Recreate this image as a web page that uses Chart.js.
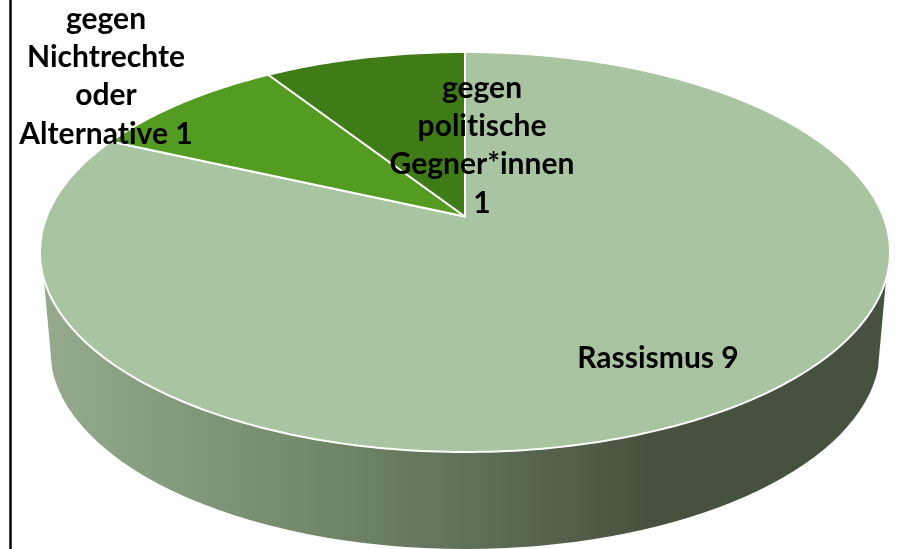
<!DOCTYPE html>
<html lang="de">
<head>
<meta charset="utf-8">
<title>Kreisdiagramm</title>
<script src="https://cdn.jsdelivr.net/npm/chart.js@4"></script>
<style>
    html, body { margin: 0; padding: 0; background: #fff; overflow: hidden; }
    #wrap { position: relative; width: 899px; height: 549px; }
    #frame { position: absolute; left: 9px; top: 0; width: 3px; height: 549px; background: linear-gradient(90deg, #666, #000, #666); }
    canvas { position: absolute; left: 0; top: 0; }
</style>
</head>
<body>
<div id="wrap">
    <canvas id="pieChart" width="899" height="549"></canvas>
    <div id="frame"></div>
</div>
<script>
// Daten
const categories = ['Rassismus', 'gegen Nichtrechte oder Alternative', 'gegen politische Gegner*innen'];
const values = [9, 1, 1];
const sliceColors = ['#a9c4a0', '#549b22', '#3f7b16'];
const labelLines = [
    ['Rassismus 9'],
    ['gegen', 'Nichtrechte', 'oder', 'Alternative 1'],
    ['gegen', 'politische', 'Gegner*innen', '1']
];
const labelCenters = [[658, 358], [106, 19], [482, 88]];

// Geometrie der geneigten Scheibe
const top3d = { cx: 465, cy: 252, rx: 425, ry: 200, apexY: 216.5 };
const bottom3d = { cx: 465, cy: 349, rx: 415, ry: 200 };

// Punkt auf dem Einheitskreis perspektivisch auf die Ellipse abbilden
function project(theta) {
    const a = (top3d.apexY - top3d.cy) / top3d.ry;
    const u = Math.sin(theta);
    const v = -Math.cos(theta);
    const w = 1 + a * v;
    return {
        x: top3d.cx + top3d.rx * u * Math.sqrt(1 - a * a) / w,
        y: top3d.cy + top3d.ry * (v + a) / w
    };
}

function drawWall(ctx) {
    const grad = ctx.createLinearGradient(50, 0, 650, 0);
    grad.addColorStop(0, '#95aa8c');
    grad.addColorStop(0.42, '#748a6c');
    grad.addColorStop(0.7, '#5f7059');
    grad.addColorStop(1, '#47513f');
    ctx.beginPath();
    ctx.moveTo(44, 280);
    ctx.ellipse(bottom3d.cx, bottom3d.cy, bottom3d.rx, bottom3d.ry, 0, Math.PI - 0.1, 0.1, true);
    ctx.lineTo(886, 280);
    ctx.lineTo(886, 250);
    ctx.lineTo(44, 250);
    ctx.closePath();
    ctx.fillStyle = grad;
    ctx.fill();
}

const disc3d = {
    id: 'disc3d',
    beforeDatasetDraw(chart, args) {
        const ctx = chart.ctx;
        ctx.save();
        drawWall(ctx);
        args.meta.data.forEach(function(arc, i) {
            const start = arc.startAngle + Math.PI / 2;
            const end = arc.endAngle + Math.PI / 2;
            ctx.beginPath();
            ctx.moveTo(top3d.cx, top3d.apexY);
            const steps = Math.ceil((end - start) * 60);
            for (let s = 0; s <= steps; s++) {
                const p = project(start + (end - start) * s / steps);
                ctx.lineTo(p.x, p.y);
            }
            ctx.closePath();
            ctx.fillStyle = sliceColors[i];
            ctx.fill();
            ctx.strokeStyle = '#ffffff';
            ctx.lineWidth = 2;
            ctx.lineJoin = 'round';
            ctx.stroke();
        });
        ctx.restore();
        return false;
    },
    afterDatasetsDraw(chart) {
        const ctx = chart.ctx;
        ctx.save();
        ctx.fillStyle = '#000000';
        ctx.font = 'bold 30px Lato';
        ctx.letterSpacing = '0.01px';
        ctx.textAlign = 'center';
        ctx.textBaseline = 'middle';
        labelLines.forEach(function(lines, i) {
            lines.forEach(function(line, j) {
                ctx.fillText(line, labelCenters[i][0], labelCenters[i][1] + j * 38.3);
            });
        });
        ctx.restore();
    }
};

new Chart(document.getElementById('pieChart').getContext('2d'), {
    type: 'pie',
    data: {
        labels: categories,
        datasets: [{ data: values, backgroundColor: sliceColors, borderColor: '#ffffff', borderWidth: 2 }]
    },
    options: {
        responsive: false,
        animation: false,
        plugins: { legend: { display: false }, tooltip: { enabled: false } }
    },
    plugins: [disc3d]
});
</script>
</body>
</html>
